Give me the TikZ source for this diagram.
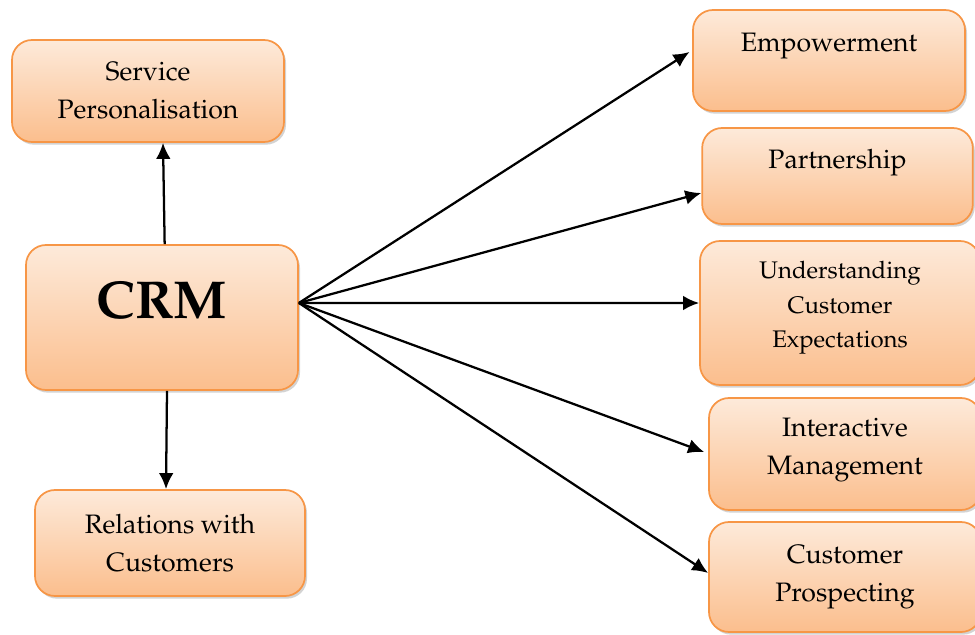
\documentclass[tikz,border=0pt]{standalone}
\usepackage[T1]{fontenc}
\usepackage{mathpazo}
\usepackage{tikz}
\usetikzlibrary{arrows.meta,shadows}

\definecolor{crmedge}{RGB}{247,150,70}
\definecolor{crmtop}{RGB}{253,234,218}
\definecolor{crmbot}{RGB}{251,190,141}

\tikzset{
  crmbox/.style={draw=crmedge, line width=1.3pt, rounded corners=15pt,
    top color=crmtop, bottom color=crmbot, minimum width=204pt,
    drop shadow={shadow xshift=1.5pt, shadow yshift=-2pt, opacity=0.35}},
  boxtext/.style={align=center, font=\fontsize{20}{28.5}\selectfont},
  link/.style={-{Latex[length=12pt,width=11pt]}, line width=1.7pt}
}

\begin{document}
\begin{tikzpicture}[x=0.75pt, y=-0.75pt]
  \useasboundingbox (0,0) rectangle (975,635);
  \node[crmbox, minimum height=76.5pt, label={[boxtext]center:Service\\Personalisation}] (svc) at (148,91) {};
  \node[crmbox, minimum height=108.75pt, label={[font=\fontsize{40}{40}\selectfont\bfseries, yshift=13pt]center:CRM}] (crm) at (162,317.5) {};
  \node[crmbox, minimum width=202.5pt, minimum height=79.5pt, label={[boxtext]center:Relations with\\Customers}] (rel) at (170,543) {};

  \node[crmbox, minimum height=75.75pt, label={[boxtext, yshift=11pt]center:Empowerment}] (emp) at (829,60.5) {};
  \node[crmbox, minimum width=203pt, minimum height=72pt, label={[boxtext, yshift=10pt]center:Partnership}] (par) at (837.5,176) {};
  \node[crmbox, minimum width=210pt, minimum height=108pt, label={[boxtext, font=\fontsize{18}{26}\selectfont, yshift=3.75pt]center:Understanding\\Customer\\Expectations}] (und) at (840,313) {};
  \node[crmbox, minimum height=84pt, label={[boxtext, yshift=3pt]center:Interactive\\Management}] (int) at (845,454) {};
  \node[crmbox, minimum height=82.5pt, label={[boxtext]center:Customer\\Prospecting}] (pro) at (845,577) {};

  \coordinate (hub) at ([yshift=10.9pt]crm.east);

  \path[link]
  ([xshift=2pt]crm.north) edge ([xshift=11.25pt]svc.south)
  ([xshift=3.75pt]crm.south) edge ([xshift=-3pt]rel.north)
  (hub) edge ([yshift=6.4pt, xshift=-2pt]emp.west)
  (hub) edge ([yshift=-12.75pt]par.west)
  (hub) edge ([yshift=7.5pt]und.west)
  (hub) edge ([yshift=1.5pt, xshift=-3pt]int.west)
  (hub) edge ([yshift=3pt]pro.west)
  ;
\end{tikzpicture}
\end{document}
